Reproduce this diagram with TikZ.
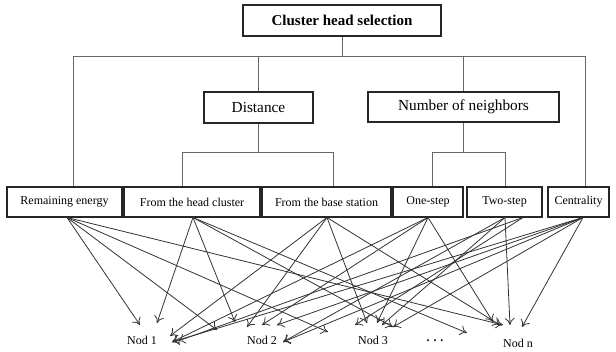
\documentclass[tikz,border=0pt]{standalone}
\usepackage{fontspec}
\setmainfont{Liberation Serif}
\usetikzlibrary{arrows.meta}
\tikzset{
    box/.style={draw=black!85, line width=1.1pt, inner sep=0pt, minimum height=30pt, align=center},
    crit/.style={box, font=\fontsize{15.3}{17}\selectfont},
    feat/.style={box, font=\fontsize{12}{14}\selectfont},
    nod/.style={inner sep=0pt, font=\fontsize{12}{14}\selectfont},
    link/.style={line width=0.8pt, draw=black!60},
    vote/.style={-{To[length=7pt,width=10pt]}, line width=0.8pt, draw=black!80}
}

\begin{document}
\begin{tikzpicture}[x=1pt, y=-1pt]
        \useasboundingbox (0,0) rectangle (616,351);

        % tree of criteria
        \node[box, minimum width=198pt, minimum height=31pt, font=\bfseries\fontsize{15}{17}\selectfont] (top) at (342,20.5) {Cluster head selection};
        \node[crit, minimum width=109pt, minimum height=31pt] (dist) at (258.5,107.5) {Distance};
        \node[crit, minimum width=191pt] (neigh) at (463.5,107) {Number of neighbors};

        \node[feat, minimum width=115pt] (remain) at (64.5,202) {Remaining energy};
        \node[feat, minimum width=136pt] (headc) at (192,202) {From the head cluster};
        \node[feat, minimum width=129pt] (basest) at (326.5,202) {From the base station};
        \node[feat, minimum width=70pt] (onestep) at (428,202) {One-step};
        \node[feat, minimum width=75pt] (twostep) at (504.5,202) {Two-step};
        \node[feat, minimum width=61pt] (central) at (578.5,202) {Centrality};

        \coordinate (busL) at (73,56);
        \coordinate (busR) at (585,56);
        \draw[link] (top) -- (top |- busL);
        \draw[link] (remain.north -| busL) |- (busR) -- (busR |- central.north);
        \draw[link] (dist.north) -- (dist.north |- busL);
        \draw[link] (neigh.north) -- (neigh.north |- busL);

        \coordinate (dL) at (182,152);
        \coordinate (dR) at (333,152);
        \draw[link] (dist.south) -- (dist.south |- dL);
        \draw[link] (headc.north -| dL) -- (dL) -- (dR) -- (basest.north -| dR);

        \coordinate (nL) at (432,152);
        \coordinate (nR) at (505,152);
        \draw[link] (neigh.south) -- (neigh.south |- nL);
        \draw[link] (onestep.north -| nL) -- (nL) -- (nR) -- (twostep.north -| nR);

        % nodes of the network
        \node[nod] (nod1) at (142,340) {Nod 1};
        \node[nod] (nod2) at (262,340) {Nod 2};
        \node[nod] (nod3) at (373,340) {Nod 3};
        \node[nod, font=\bfseries\fontsize{12}{14}\selectfont] (dots) at (435,341) {. . .};
        \node[nod] (nodn) at (518,343) {Nod n};

        \coordinate (s1) at (67,217.5);
        \coordinate (s2) at (193,217.5);
        \coordinate (s3) at (327,217.5);
        \coordinate (s4) at (428,217.5);
        \coordinate (s5) at (505,217.5);
        \coordinate (s6) at (523,217.5);
        \coordinate (s7) at (583,217.5);

        \coordinate (a1) at (140,325);
        \coordinate (a2) at (157,323);
        \coordinate (a3) at (170,336);
        \coordinate (a4) at (172,342);
        \coordinate (a5) at (178,341);
        \coordinate (b1) at (217,330);
        \coordinate (b2) at (235,322);
        \coordinate (b3) at (247,327);
        \coordinate (b4) at (262,325);
        \coordinate (b5) at (277,325);
        \coordinate (b6) at (283,342);
        \coordinate (c0) at (328,332);
        \coordinate (c1) at (355,325);
        \coordinate (c2) at (367,323);
        \coordinate (c3) at (377,323);
        \coordinate (c4) at (382,325);
        \coordinate (c5) at (393,327);
        \coordinate (d1) at (467,333);
        \coordinate (e1) at (493,322);
        \coordinate (e2) at (500,325);
        \coordinate (e3) at (503,325);
        \coordinate (e4) at (510,325);
        \coordinate (e5) at (522,327);

        % votes of each criterion
        \foreach \s/\t in {s1/a1, s1/b1, s1/c0, s1/e3,
                           s2/a2, s2/b2, s2/c5, s2/d1,
                           s3/a3, s3/b3, s3/c2, s3/e2,
                           s4/a4, s4/b4, s4/c3, s4/e1,
                           s5/b6, s5/c4, s5/e4,
                           s6/a5, s6/c1,
                           s7/e5, s7/c5, s7/b5, s7/b6, s7/a4}
            \draw[vote] (\s) -- (\t);
    \end{tikzpicture}
\end{document}
